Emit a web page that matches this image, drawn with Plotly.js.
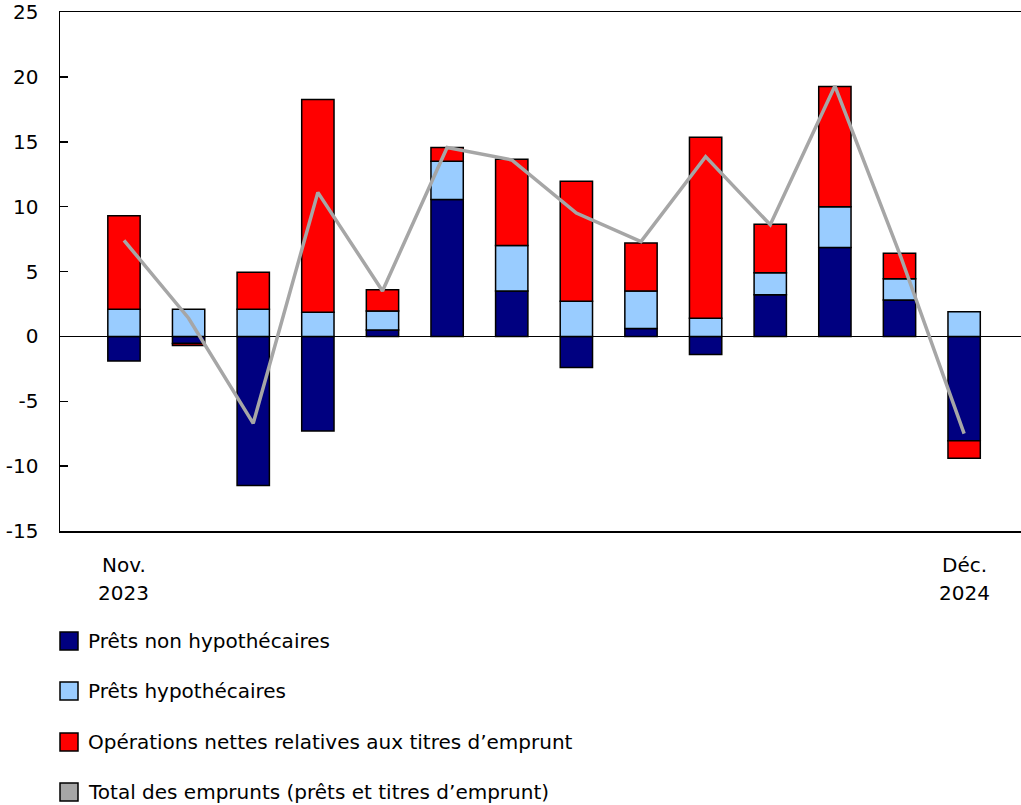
<!DOCTYPE html>
<html>
<head>
<meta charset="utf-8">
<script src="https://cdn.plot.ly/plotly-3.0.1.min.js"></script>
<style>html,body{margin:0;padding:0;background:#fff;}</style>
</head>
<body>
<div id="chart" style="width:1021px;height:805px;"></div>
<script>
// Data (billions of dollars)
const months = ["nov. 2023","déc. 2023","janv. 2024","févr. 2024","mars 2024","avr. 2024","mai 2024","juin 2024","juil. 2024","août 2024","sept. 2024","oct. 2024","nov. 2024","déc. 2024"];
const nonMortgage = [-1.9, -0.55, -11.5, -7.3, 0.5, 10.55, 3.5, -2.4, 0.6, -1.4, 3.2, 6.85, 2.8, -8.05];
const mortgage    = [2.1, 2.1, 2.1, 1.85, 1.45, 2.95, 3.5, 2.7, 2.9, 1.4, 1.7, 3.15, 1.65, 1.9];
const debtSec     = [7.2, -0.15, 2.85, 16.4, 1.65, 1.05, 6.65, 9.25, 3.7, 13.95, 3.75, 9.25, 1.95, -1.35];
const totalBorrow = [7.4, 1.4, -6.7, 11.1, 3.5, 14.55, 13.6, 9.5, 7.3, 13.85, 8.6, 19.3, 6.4, -7.5];

const seriesNames = ["Prêts non hypothécaires","Prêts hypothécaires","Opérations nettes relatives aux titres d’emprunt","Total des emprunts (prêts et titres d’emprunt)"];
const seriesColors = ["#000080","#99ccff","#ff0000","#a6a6a6"];

const yTickVals = [-15,-10,-5,0,5,10,15,20,25];
const yTickText = ["-15","-10","-5","0","5","10","15","20","25"];
const xLabelTop = ["Nov.","Déc."];
const xLabelBottom = ["2023","2024"];

const FONT = "DejaVu Sans, Verdana, sans-serif";
const FS = 20;

const barVals = [nonMortgage, mortgage, debtSec];
const traces = barVals.map((v,i)=>({
  type:"bar", x:months, y:v, name:seriesNames[i],
  marker:{color:seriesColors[i], line:{color:"#000", width:1.5}},
  showlegend:false, hoverinfo:"x+y"
}));
traces.push({
  type:"scatter", mode:"lines", x:months, y:totalBorrow, name:seriesNames[3],
  line:{color:seriesColors[3], width:3.5}, showlegend:false
});

const annotations = [];
const shapes = [];
const edgeIdx = [0, months.length-1];
edgeIdx.forEach((idx,k)=>{
  annotations.push({xref:"x", yref:"paper", x:months[idx], y:0, yanchor:"middle", xanchor:"center",
    yshift:-34, text:xLabelTop[k], showarrow:false, font:{family:FONT,size:FS,color:"#000"}});
  annotations.push({xref:"x", yref:"paper", x:months[idx], y:0, yanchor:"middle", xanchor:"center",
    yshift:-62, text:xLabelBottom[k], showarrow:false, font:{family:FONT,size:FS,color:"#000"}});
});
// custom legend below plot
const legendOffsets = [110, 160, 211, 261];
seriesNames.forEach((nm,i)=>{
  const off = legendOffsets[i];
  shapes.push({type:"rect", xref:"paper", yref:"paper", xsizemode:"pixel", ysizemode:"pixel",
    xanchor:0, yanchor:0, x0:0, x1:18, y0:-off-9, y1:-off+9,
    fillcolor:seriesColors[i], line:{color:"#000", width:1.5}});
  annotations.push({xref:"paper", yref:"paper", x:0, y:0, xanchor:"left", yanchor:"middle",
    xshift:26, yshift:-off, text:nm, showarrow:false, font:{family:FONT,size:FS,color:"#000"}});
});

const layout = {
  width:1021, height:805,
  margin:{l:60, r:0, t:12, b:274},
  paper_bgcolor:"#fff", plot_bgcolor:"#fff",
  barmode:"relative", bargap:0.5,
  font:{family:FONT, size:FS, color:"#000"},
  showlegend:false,
  xaxis:{type:"category", range:[-0.99, 13.88], showticklabels:false, ticks:"",
    showline:true, mirror:true, linecolor:"#000", linewidth:1.5, showgrid:false, zeroline:false, fixedrange:true},
  yaxis:{range:[-15,25], tickvals:yTickVals, ticktext:yTickText, ticks:"inside", ticklen:8, tickwidth:1.5,
    tickcolor:"#000", showline:true, linecolor:"#000", linewidth:1.5, showgrid:false,
    zeroline:true, zerolinecolor:"#000", zerolinewidth:1.5, ticklabelstandoff:16,
    tickfont:{family:FONT,size:FS,color:"#000"}, fixedrange:true},
  shapes:shapes, annotations:annotations
};

Plotly.newPlot("chart", traces, layout, {displayModeBar:false, staticPlot:true});
</script>
</body>
</html>
